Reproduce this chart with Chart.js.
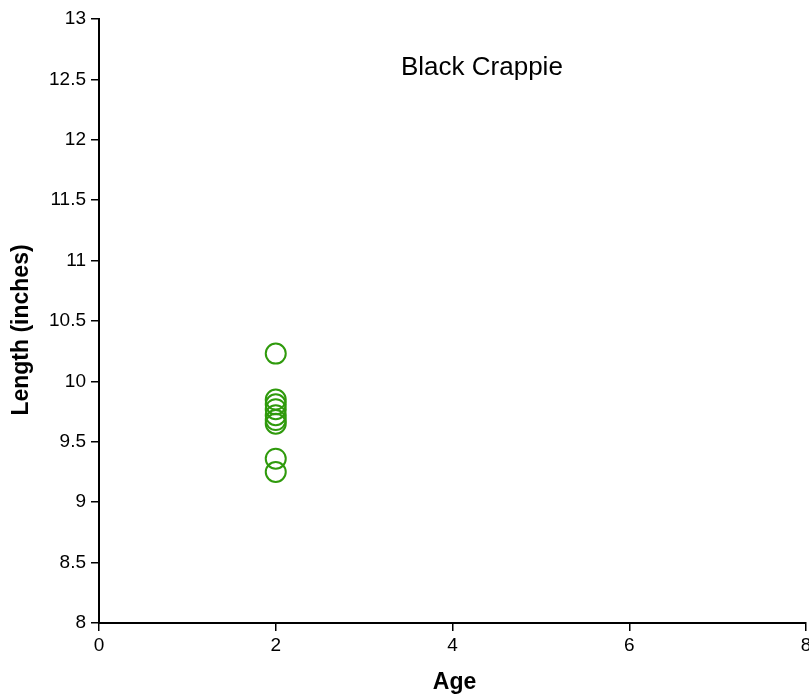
<!DOCTYPE html>
<html>
<head>
<meta charset="utf-8">
<script src="https://cdn.jsdelivr.net/npm/chart.js@4"></script>
<style>
  html, body { margin: 0; padding: 0; background: #fff; overflow: hidden; }
  #wrap { width: 809px; height: 696px; overflow: hidden; }
</style>
</head>
<body>
<div id="wrap"><canvas id="c" width="818" height="696"></canvas></div>
<script>
// Black crappie length at age
const ages = [2, 2, 2, 2, 2, 2, 2, 2, 2];
const lengths = [10.23, 9.85, 9.81, 9.77, 9.72, 9.68, 9.65, 9.36, 9.25];
const chartTitle = 'Black Crappie';
const xTitle = 'Age';
const yTitle = 'Length (inches)';

const points = ages.map((a, i) => ({ x: a, y: lengths[i] }));

const FONT = "'Liberation Sans', Arial, sans-serif";

// Species name inside the plot plus both axis captions
const annotations = {
  id: 'annotations',
  afterDraw(chart) {
    const { ctx, chartArea } = chart;
    ctx.save();
    ctx.fillStyle = '#000';
    ctx.font = '26px ' + FONT;
    ctx.textAlign = 'left';
    ctx.textBaseline = 'alphabetic';
    ctx.fillText(chartTitle, chartArea.left + 302, chartArea.top + 56);

    ctx.font = 'bold 23px ' + FONT;
    ctx.textAlign = 'center';
    ctx.fillText(xTitle, (chartArea.left + chartArea.right) / 2 + 2, chartArea.bottom + 66);

    ctx.textBaseline = 'middle';
    ctx.translate(22, (chartArea.top + chartArea.bottom) / 2 + 9);
    ctx.rotate(-Math.PI / 2);
    ctx.fillText(yTitle, 0, 0);
    ctx.restore();
  }
};

new Chart(document.getElementById('c'), {
  type: 'scatter',
  data: {
    datasets: [{
      data: points,
      pointStyle: 'circle',
      pointRadius: 10,
      pointHoverRadius: 10,
      pointBorderWidth: 2,
      borderColor: '#2f9a0c',
      backgroundColor: 'rgba(0,0,0,0)'
    }]
  },
  options: {
    responsive: false,
    animation: false,
    layout: { padding: { top: 19, right: 3, left: 0, bottom: 0 } },
    plugins: { legend: { display: false }, tooltip: { enabled: false } },
    scales: {
      x: {
        type: 'linear',
        min: 0, max: 8,
        ticks: { stepSize: 2, color: '#000', font: { family: FONT, size: 19 }, padding: 3 },
        grid: { drawOnChartArea: false, drawTicks: true, tickLength: 8, color: '#000', lineWidth: 1.5 },
        border: { color: '#000', width: 2 },
        afterFit(s) { s.height = 73; }
      },
      y: {
        type: 'linear',
        min: 8, max: 13,
        ticks: {
          stepSize: 0.5, color: '#000', font: { family: FONT, size: 19 }, padding: 5,
          callback: (v) => String(v)
        },
        grid: { drawOnChartArea: false, drawTicks: true, tickLength: 8, color: '#000', lineWidth: 1.5 },
        border: { color: '#000', width: 2 },
        afterFit(s) { s.width = 99; }
      }
    }
  },
  plugins: [annotations]
});
</script>
</body>
</html>
